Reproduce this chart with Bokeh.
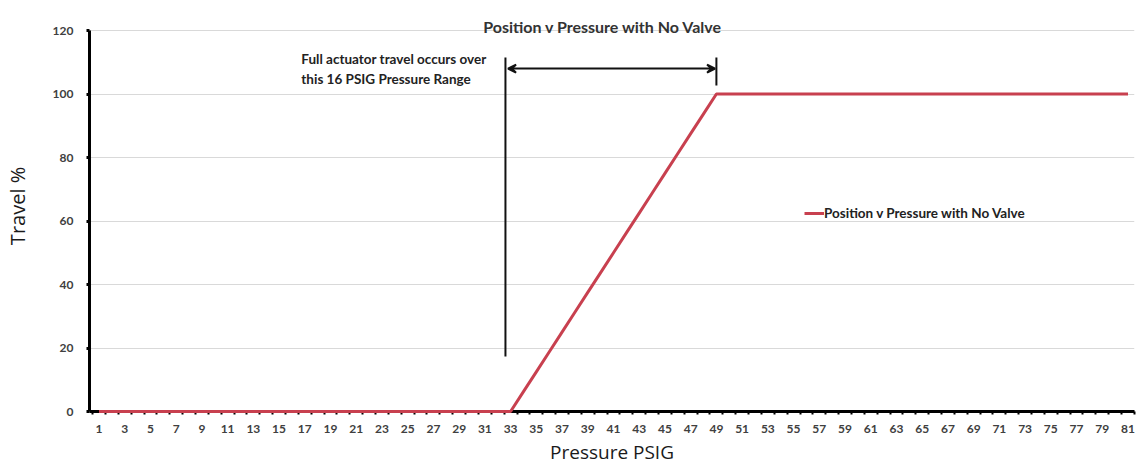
from bokeh.plotting import figure
from bokeh.models import FixedTicker, Label, Arrow, VeeHead, Legend, LegendItem
from bokeh.embed import file_html
from bokeh.resources import INLINE

# ---------------- data ----------------
pressure_psig = list(range(1, 82))  # categories 1..81
travel_pct = [
    0, 0, 0, 0, 0, 0, 0, 0, 0, 0,
    0, 0, 0, 0, 0, 0, 0, 0, 0, 0,
    0, 0, 0, 0, 0, 0, 0, 0, 0, 0,
    0, 0, 0,
    6.25, 12.5, 18.75, 25, 31.25, 37.5, 43.75, 50,
    56.25, 62.5, 68.75, 75, 81.25, 87.5, 93.75, 100,
    100, 100, 100, 100, 100, 100, 100, 100, 100, 100,
    100, 100, 100, 100, 100, 100, 100, 100, 100, 100,
    100, 100, 100, 100, 100, 100, 100, 100, 100, 100,
    100, 100,
]
x_tick_labels = [c for c in pressure_psig if c % 2 == 1]
y_ticks = [0, 20, 40, 60, 80, 100, 120]

title_text = "Position v Pressure with No Valve"
series_name = "Position v Pressure with No Valve"
note_text = "Full actuator travel occurs over\nthis 16 PSIG Pressure Range"
x_label = "Pressure PSIG"
y_label = "Travel %"

range_start = 33   # travel starts
range_end = 49     # travel complete

# annotation placement (styling)
note_line_bottom = 17.3
note_line_top = 111.5
arrow_y = 108
end_tick_bottom = 102.7

RED = "#c8404f"
LABEL_GREY = "#404040"
CHART_FONT = "Lato"
OUTER_FONT = "Open Sans"

p = figure(width=1136, height=470, x_range=(0.262, 81.505), y_range=(0, 129.45),
           output_backend="svg", toolbar_location=None,
           min_border_left=88, min_border_right=2, min_border_top=0,
           min_border_bottom=59)
p.outline_line_color = None
p.background_fill_color = "white"
p.border_fill_color = "white"

# grid
p.xgrid.visible = False
p.ygrid.ticker = FixedTicker(ticks=y_ticks)
p.ygrid.grid_line_color = "#d9d9d9"
p.ygrid.grid_line_width = 1

# series (drawn above the axis line, like the original)
r = p.line(pressure_psig, travel_pct, line_color=RED, line_width=3)
r.level = "overlay"

# x axis
xa = p.xaxis[0]
xa.ticker = FixedTicker(ticks=x_tick_labels,
                        minor_ticks=[c - 0.5 for c in pressure_psig] + [pressure_psig[-1] + 0.5])
xa.axis_line_width = 3
xa.axis_line_color = "black"
xa.major_tick_out = 3
xa.major_tick_in = 0
xa.major_tick_line_color = None
xa.minor_tick_out = 3
xa.minor_tick_in = 0
xa.minor_tick_line_width = 2
xa.minor_tick_line_color = "black"
xa.major_label_standoff = 10
xa.major_label_text_font = CHART_FONT
xa.major_label_text_font_size = "12px"
xa.major_label_text_font_style = "bold"
xa.major_label_text_color = LABEL_GREY
xa.axis_label = x_label
xa.axis_label_text_font = OUTER_FONT
xa.axis_label_text_font_size = "19px"
xa.axis_label_text_font_style = "normal"
xa.axis_label_text_color = "#1a1a1a"
xa.axis_label_standoff = 3

# y axis
ya = p.yaxis[0]
ya.ticker = FixedTicker(ticks=y_ticks)
ya.bounds = (0, 120)
ya.axis_line_width = 3
ya.axis_line_color = "black"
ya.major_tick_out = 3
ya.major_tick_in = 0
ya.major_tick_line_width = 3
ya.minor_tick_out = 0
ya.minor_tick_in = 0
ya.major_label_standoff = 13
ya.major_label_text_font = CHART_FONT
ya.major_label_text_font_size = "12px"
ya.major_label_text_font_style = "bold"
ya.major_label_text_color = LABEL_GREY
ya.axis_label = y_label
ya.axis_label_text_font = OUTER_FONT
ya.axis_label_text_font_size = "20px"
ya.axis_label_text_font_style = "normal"
ya.axis_label_text_color = "#1a1a1a"
ya.axis_label_standoff = 19

# chart title
p.add_layout(Label(x=40.18, y=121.26, text=title_text, text_align="center",
                   text_baseline="middle", text_font=CHART_FONT,
                   text_font_size="16px", text_font_style="bold",
                   text_color="#333333"))

# annotation: vertical line, range arrow, end tick, note text
p.segment(x0=[range_start - 0.4], y0=[note_line_bottom],
          x1=[range_start - 0.4], y1=[note_line_top],
          line_color="#111111", line_width=2)
p.segment(x0=[range_end], y0=[end_tick_bottom], x1=[range_end], y1=[note_line_top],
          line_color="#111111", line_width=2)
p.add_layout(Arrow(x_start=range_start - 0.2, y_start=arrow_y,
                   x_end=range_end - 0.1, y_end=arrow_y,
                   start=VeeHead(size=8, line_width=2, line_color="#111111"),
                   end=VeeHead(size=8, line_width=2, line_color="#111111"),
                   line_width=2, line_color="#111111"))
p.add_layout(Label(x=16.73, y=113.4, text=note_text, text_align="left",
                   text_baseline="top", text_font=CHART_FONT,
                   text_font_size="13.5px", text_font_style="bold",
                   text_color="#222222", text_line_height=1.25))

# legend
legend = Legend(items=[LegendItem(label=series_name, renderers=[r])],
                location=(715, 189), border_line_alpha=0,
                background_fill_alpha=0, padding=0, margin=0, spacing=0,
                glyph_width=20, glyph_height=18, label_standoff=0,
                label_text_font=CHART_FONT, label_text_font_size="13.5px",
                label_text_font_style="bold", label_text_color="#222222")
p.add_layout(legend)

open("out.html", "w").write(file_html(p, INLINE))
